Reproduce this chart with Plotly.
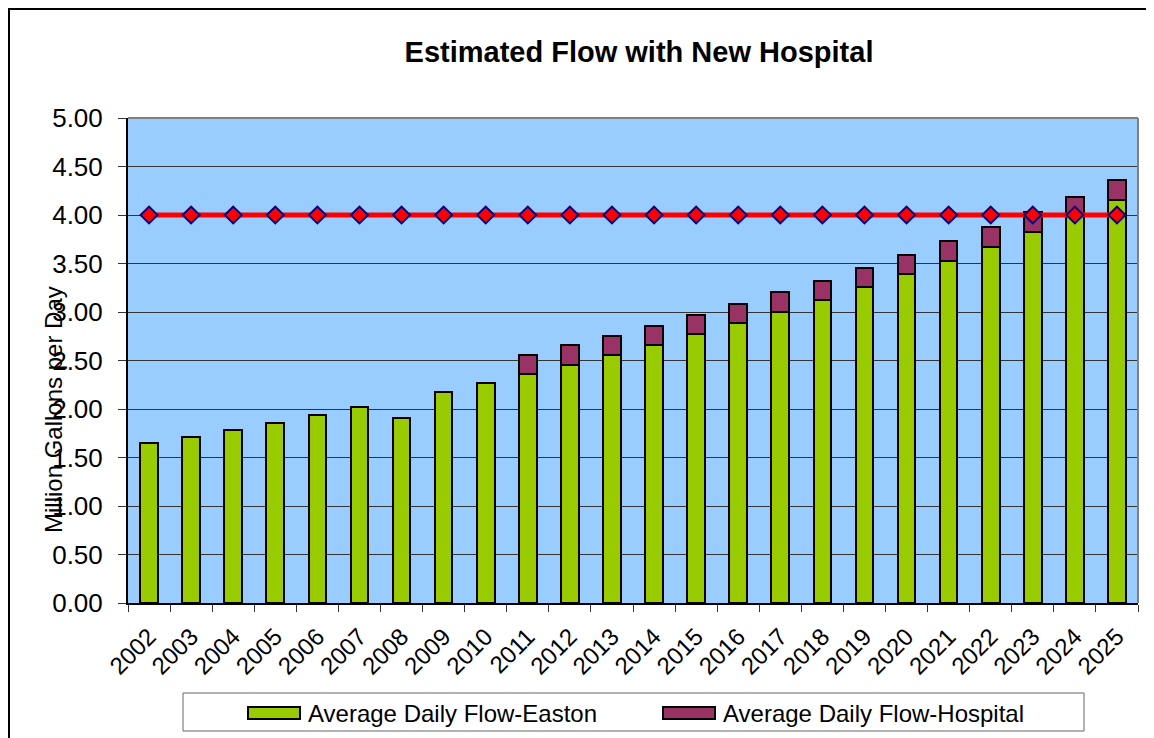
import plotly.graph_objects as go

years = [str(y) for y in range(2002, 2026)]
easton = [1.645, 1.713, 1.782, 1.858, 1.937, 2.016, 1.903, 2.178, 2.270, 2.360,
          2.455, 2.555, 2.660, 2.770, 2.885, 3.003, 3.124, 3.255, 3.392, 3.529,
          3.674, 3.826, 3.990, 4.156]
hospital = [None, None, None, None, None, None, None, None, None, 0.20,
            0.20, 0.20, 0.20, 0.20, 0.20, 0.20, 0.20, 0.20, 0.20, 0.20,
            0.20, 0.20, 0.20, 0.20]
capacity = [4.0] * 24
y_ticks = [0, 0.5, 1.0, 1.5, 2.0, 2.5, 3.0, 3.5, 4.0, 4.5, 5.0]
series_names = ["Average Daily Flow-Easton", "Average Daily Flow-Hospital"]
series_colors = ["#99CC00", "#993366"]

FONT = "Liberation Sans, Arial, sans-serif"
OFF = 8  # default body margin of the html page
W, H = 1154 - OFF, 738 - OFF
# plot area in absolute window pixels
AL, AR, AT, AB = 128, 1138, 118, 603
L, R, T, B = AL - OFF, AR - OFF, AT - OFF, AB - OFF


def px(x):
    return (x - AL) / (AR - AL)


def py(y):
    return (AB - y) / (AB - AT)


fig = go.Figure()
fig.add_trace(go.Bar(x=years, y=easton, name=series_names[0], showlegend=False,
                     marker=dict(color=series_colors[0], line=dict(color="black", width=2))))
fig.add_trace(go.Bar(x=years, y=hospital, name=series_names[1], showlegend=False,
                     marker=dict(color=series_colors[1], line=dict(color="black", width=2))))
fig.add_trace(go.Scatter(x=years, y=capacity, mode="lines+markers", showlegend=False,
                         line=dict(color="#FF0000", width=5),
                         marker=dict(symbol="diamond", size=13, color="#FF0000",
                                     line=dict(color="#000080", width=2))))

fig.update_layout(
    width=W, height=H,
    margin=dict(l=L, r=W - R, t=T, b=H - B, autoexpand=False),
    barmode="stack", bargap=0.58,
    paper_bgcolor="white", plot_bgcolor="#99CCFF",
    font=dict(family=FONT, color="black"),
    title=dict(text="<b>Estimated Flow with New Hospital</b>", x=(639 - OFF) / W,
               xref="container", y=1 - (52 - OFF) / H, yref="container",
               xanchor="center", yanchor="middle",
               font=dict(size=29, family=FONT, color="black")),
    showlegend=False,
)
fig.update_xaxes(type="category", range=[-0.5, 23.5], tickangle=-45,
                 tickfont=dict(size=24, family=FONT), automargin=False,
                 ticklabelstandoff=8,
                 showgrid=False, showline=True, linecolor="black", linewidth=2,
                 ticks="outside", ticklen=7, tickcolor="#333333", tickson="boundaries")
fig.update_yaxes(range=[0, 5], tickvals=y_ticks, tickformat=".2f", automargin=False,
                 tickfont=dict(size=26, family=FONT), ticklabelstandoff=10,
                 showgrid=True, gridcolor="#333333", gridwidth=1, zeroline=False,
                 showline=True, linecolor="black", linewidth=2,
                 ticks="outside", ticklen=8, tickcolor="#333333")

# plot area top and right border
fig.add_shape(type="line", xref="paper", yref="paper", x0=0, x1=1, y0=1, y1=1,
              line=dict(color="#808080", width=2))
fig.add_shape(type="line", xref="paper", yref="paper", x0=1, x1=1, y0=0, y1=1,
              line=dict(color="#808080", width=2))

# legend box with two entries
fig.add_shape(type="rect", xref="paper", yref="paper",
              x0=px(183), x1=px(1084), y0=py(731), y1=py(693),
              line=dict(color="#666666", width=1), fillcolor="white", layer="below")
legend_sym_x = [248, 663]
for name, color, sx in zip(series_names, series_colors, legend_sym_x):
    fig.add_shape(type="rect", xref="paper", yref="paper",
                  x0=px(sx), x1=px(sx + 52), y0=py(719), y1=py(707),
                  line=dict(color="black", width=2), fillcolor=color, layer="above")
    fig.add_annotation(text=name, xref="paper", yref="paper",
                       x=px(sx + 58), y=py(713), showarrow=False,
                       xanchor="left", yanchor="middle",
                       font=dict(size=24, family=FONT, color="black"))

# outer chart border
fig.add_shape(type="rect", xref="paper", yref="paper",
              x0=px(9), x1=px(1180), y0=py(780), y1=py(9),
              line=dict(color="black", width=2), layer="above")

fig.add_annotation(text="Million Gallons per Day", xref="paper", yref="paper",
                   x=px(53), y=py(410), textangle=-90, showarrow=False,
                   xanchor="center", yanchor="middle",
                   font=dict(size=24, family=FONT, color="black"))

fig.write_html("out.html")
